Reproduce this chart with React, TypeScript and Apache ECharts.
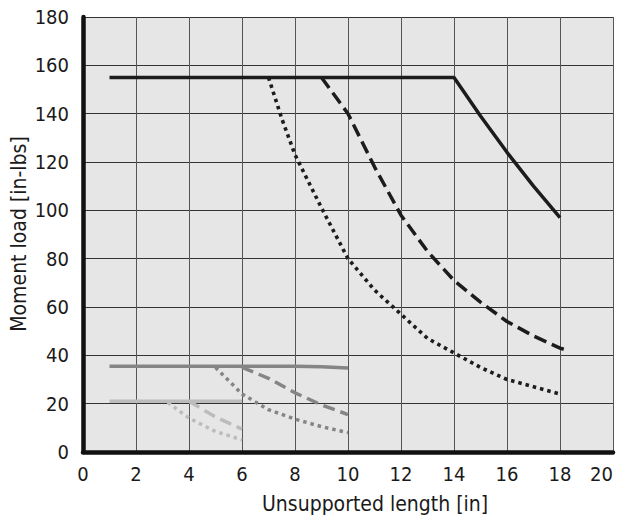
import React, { useEffect, useRef } from "react";
import * as echarts from "echarts";

const xTicks = [0, 2, 4, 6, 8, 10, 12, 14, 16, 18, 20];
const yTicks = [0, 20, 40, 60, 80, 100, 120, 140, 160, 180];

const blackSolidX = [1, 14, 15, 16, 17, 18];
const blackSolidY = [155, 155, 139, 124, 110, 97];

const blackDashedX = [9, 10, 11, 12, 13, 14, 15, 16, 17, 18, 18.3];
const blackDashedY = [155, 140, 118, 98, 83, 71, 62, 54, 48, 43, 42];

const blackDottedX = [7, 7.5, 8, 9, 10, 11, 12, 13, 14, 15, 16, 17, 18];
const blackDottedY = [155, 138, 123, 101, 80, 67, 57, 47, 41, 35, 30, 27, 24];

const medSolidX = [1, 8, 9, 10];
const medSolidY = [35.5, 35.5, 35.3, 34.8];

const medDashedX = [6, 7, 8, 9, 10];
const medDashedY = [35, 30.5, 24.5, 19.5, 15.5];

const medDottedX = [5, 6, 7, 8, 9, 10];
const medDottedY = [35, 24, 17.5, 13.6, 10.5, 8];

const lightSolidX = [1, 6];
const lightSolidY = [21, 21];

const lightDashedX = [4, 5, 6];
const lightDashedY = [21, 14.5, 9.5];

const lightDottedX = [3.2, 4, 5, 6];
const lightDottedY = [20.5, 14, 8.5, 5];

const FONT = "'Liberation Sans Narrow', 'DejaVu Sans Condensed', 'Roboto', sans-serif";

const zip = (xs: number[], ys: number[]) => xs.map((x, i) => [x, ys[i]]);

function line(name: string, xs: number[], ys: number[], color: string, type: any, width: number) {
  return {
    name,
    type: "line",
    data: zip(xs, ys),
    showSymbol: false,
    symbol: "none",
    lineStyle: { color, width, type, cap: "butt", join: "round" },
    z: 3,
  };
}

export default function App() {
  const ref = useRef<HTMLDivElement>(null);
  useEffect(() => {
    const chart = echarts.init(ref.current!, null, { renderer: "svg" });
    const black = "#1c1c1c";
    const med = "#858585";
    const light = "#bcbcbc";
    chart.setOption({
      animation: false,
      backgroundColor: "#ffffff",
      grid: {
        left: 83,
        top: 17,
        right: 5,
        bottom: 73,
        show: true,
        containLabel: false,
        outerBoundsMode: "none",
        backgroundColor: "#e6e6e6",
        borderWidth: 0,
      },
      xAxis: {
        type: "value",
        min: 0,
        max: 20,
        interval: 2,
        axisLine: { show: true, onZero: false, lineStyle: { color: "#111", width: 4.5 } },
        axisTick: { show: false },
        axisLabel: {
          color: "#1a1a1a",
          fontFamily: FONT,
          fontSize: 20,
          margin: 12,
          hideOverlap: false,
          alignMaxLabel: "right",
          formatter: (v: number) => (xTicks.includes(v) ? String(v) : ""),
        },
        splitLine: { show: true, lineStyle: { color: "#555", width: 1 } },
      },
      yAxis: {
        type: "value",
        min: 0,
        max: 180,
        interval: 20,
        axisLine: { show: true, onZero: false, lineStyle: { color: "#111", width: 4.5 } },
        axisTick: { show: false },
        axisLabel: {
          color: "#1a1a1a",
          fontFamily: FONT,
          fontSize: 20,
          margin: 14,
          formatter: (v: number) => (yTicks.includes(v) ? String(v) : ""),
        },
        splitLine: { show: true, lineStyle: { color: "#333", width: 1 } },
      },
      graphic: [
        {
          type: "text",
          left: 262,
          top: 493,
          style: {
            text: "Unsupported length [in]",
            font: `21px ${FONT}`,
            fill: "#1a1a1a",
          },
        },
        {
          type: "text",
          x: 19,
          y: 234,
          rotation: Math.PI / 2,
          style: {
            text: "Moment load [in-lbs]",
            font: `21px ${FONT}`,
            fill: "#1a1a1a",
            align: "center",
            verticalAlign: "middle",
          },
        },
      ],
      series: [
        line("lightSolid", lightSolidX, lightSolidY, light, "solid", 3.5),
        line("lightDashed", lightDashedX, lightDashedY, light, [12, 6], 3.5),
        line("lightDotted", lightDottedX, lightDottedY, light, [3.5, 4], 3.5),
        line("medSolid", medSolidX, medSolidY, med, "solid", 3.5),
        line("medDashed", medDashedX, medDashedY, med, [12, 6], 3.5),
        line("medDotted", medDottedX, medDottedY, med, [3.5, 4], 3.5),
        line("blackSolid", blackSolidX, blackSolidY, black, "solid", 3.5),
        line("blackDashed", blackDashedX, blackDashedY, black, [13, 6], 3.5),
        line("blackDotted", blackDottedX, blackDottedY, black, [3.5, 4], 3.6),
      ],
    });
    return () => chart.dispose();
  }, []);
  return (
    <div
      ref={ref}
      style={{ position: "fixed", left: 0, top: 0, width: 618, height: 525 }}
    />
  );
}
